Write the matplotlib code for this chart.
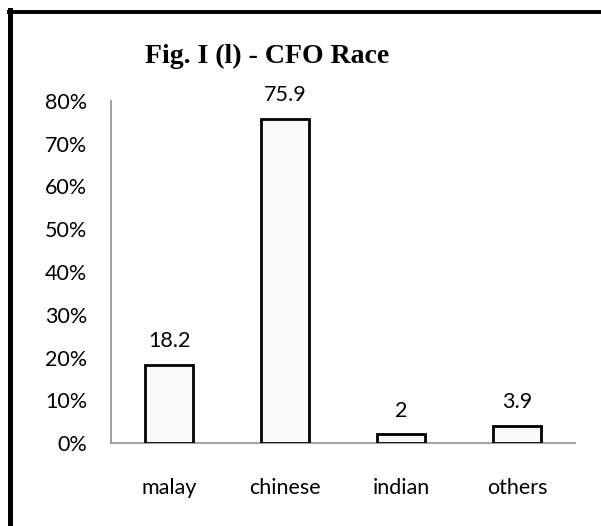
import matplotlib
matplotlib.use("Agg")
import matplotlib.pyplot as plt
from matplotlib.lines import Line2D
from matplotlib.ticker import FuncFormatter

# data
races = ["malay", "chinese", "indian", "others"]
shares = [18.2, 75.9, 2, 3.9]
value_labels = ["18.2", "75.9", "2", "3.9"]
y_ticks = [0, 10, 20, 30, 40, 50, 60, 70, 80]

W, H = 601, 526
fig = plt.figure(figsize=(W / 100, H / 100), dpi=100)
fig.patch.set_facecolor("white")

ax = fig.add_axes([111 / W, 1 - 443 / H, (575 - 111) / W, (443 - 101) / H])

x = range(len(races))
ax.bar(x, shares, width=0.41, color="#f9f9f9", edgecolor="black", linewidth=2.0, zorder=3)

for xi, v, lab in zip(x, shares, value_labels):
    ax.annotate(lab, (xi, v), xytext=(0, 10), textcoords="offset points",
                ha="center", va="bottom", fontsize=15.5, family="Lato")

ax.set_xlim(-0.5, len(races) - 0.5)
ax.set_ylim(0, 80)
ax.set_yticks(y_ticks)
ax.yaxis.set_major_formatter(FuncFormatter(lambda v, p: f"{v:.0f}%"))
ax.set_xticks(list(x))
ax.set_xticklabels(races)

for lab in ax.get_xticklabels() + ax.get_yticklabels():
    lab.set_family("Lato")
    lab.set_fontsize(15.5)
ax.tick_params(axis="both", length=0)
ax.tick_params(axis="y", pad=17)
ax.tick_params(axis="x", pad=25)

for side in ["top", "right"]:
    ax.spines[side].set_visible(False)
for side in ["left", "bottom"]:
    ax.spines[side].set_color("#9a9a9a")
    ax.spines[side].set_linewidth(1.3)

fig.text(267 / W, 1 - 56 / H, "Fig. I (l) - CFO Race", ha="center", va="center",
         fontsize=20, fontweight="bold", family="Liberation Serif")

# frame lines (left and top) of the original figure box
fig.add_artist(Line2D([10.5 / W, 10.5 / W], [0, 1 - 10 / H], color="black",
                      linewidth=3.6, transform=fig.transFigure))
fig.add_artist(Line2D([8.5 / W, 1], [1 - 11.8 / H, 1 - 11.8 / H], color="black",
                      linewidth=2.8, transform=fig.transFigure))

fig.savefig("out.png", dpi=100)
